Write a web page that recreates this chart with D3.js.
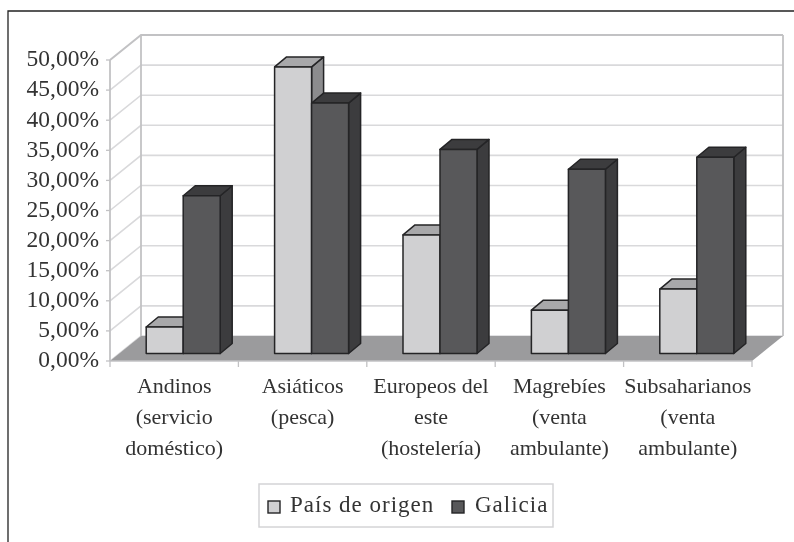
<!DOCTYPE html>
<html><head><meta charset="utf-8">
<script src="https://cdn.jsdelivr.net/npm/d3@7/dist/d3.min.js"></script>
<style>html,body{margin:0;padding:0;background:#fff}svg{display:block;filter:blur(0.45px)}text{font-family:"Liberation Serif",serif;fill:#333}</style>
</head><body><svg id="c" width="794" height="542"></svg>
<script>
const categories = ["Andinos","Asiáticos","Europeos","Magrebíes","Subsaharianos"];
const categoryLines = [
  ["Andinos","(servicio","doméstico)"],
  ["Asiáticos","(pesca)"],
  ["Europeos del","este","(hostelería)"],
  ["Magrebíes","(venta","ambulante)"],
  ["Subsaharianos","(venta","ambulante)"]
];
const seriesNames = ["País de origen","Galicia"];
const paisDeOrigen = [4.4,47.6,19.7,7.2,10.7];
const galicia = [26.2,41.6,33.9,30.6,32.6];
const yTicks = [0,5,10,15,20,25,30,35,40,45,50];
const tickLabels = ["0,00%","5,00%","10,00%","15,00%","20,00%","25,00%","30,00%","35,00%","40,00%","45,00%","50,00%"];

const svg = d3.select("#c");
const x0 = d3.scaleBand().domain(categories).range([110,752]);
const y = d3.scaleLinear().domain([0,50]).range([361,60]);
const x1 = d3.scaleBand().domain(seriesNames).range([x0.bandwidth()/2-37,x0.bandwidth()/2+37]);
const depth = {x:31,y:-25};
const barShift = {x:9,y:-7.5};
const barDepth = {x:12,y:-10};
const wall = "#c2c2c4", grid = "#d9d9db";
const fills = [{front:"#d0d0d2",top:"#a8a8aa",side:"#8c8c8e"},{front:"#58585a",top:"#3c3c3e",side:"#3c3c3e"}];

// frame
svg.append("path").attr("d","M794,11H8V542").attr("fill","none").attr("stroke","#222").attr("stroke-width",1.3);

// back wall gridlines
yTicks.forEach(t=>{
  const yy=y(t);
  svg.append("path").attr("d",`M110,${yy}L${110+depth.x},${yy+depth.y}H${752+depth.x}`)
    .attr("fill","none").attr("stroke",t===50?wall:grid).attr("stroke-width",t===50?2:1.6);
});
svg.append("path").attr("d",`M${110+depth.x},${y(50)+depth.y}V${y(0)+depth.y}`).attr("stroke",wall).attr("stroke-width",1.8);
svg.append("path").attr("d",`M${752+depth.x},${y(50)+depth.y}V${y(0)+depth.y}`).attr("stroke",wall).attr("stroke-width",1.8);
svg.append("path").attr("d",`M110,${y(0)}V${y(50)}`).attr("stroke",wall).attr("stroke-width",1.8);

// floor
svg.append("polygon").attr("fill","#9b9b9d")
  .attr("points",[[110,y(0)],[752,y(0)],[752+depth.x,y(0)+depth.y],[110+depth.x,y(0)+depth.y]].join(" "));

// axes
const xTickVals=[110,...categories.map(c=>x0(c)+x0.bandwidth())];
xTickVals.forEach(v=>svg.append("line").attr("x1",v).attr("x2",v).attr("y1",y(0)).attr("y2",y(0)+6).attr("stroke",wall).attr("stroke-width",1.3));
svg.append("line").attr("x1",110).attr("x2",752).attr("y1",y(0)).attr("y2",y(0)).attr("stroke",wall).attr("stroke-width",1.6);
yTicks.forEach((t,i)=>{
  svg.append("line").attr("x1",106).attr("x2",110).attr("y1",y(t)).attr("y2",y(t)).attr("stroke",wall).attr("stroke-width",1.3);
  svg.append("text").attr("x",99).attr("y",y(t)+1).attr("text-anchor","end").attr("dominant-baseline","middle")
    .attr("font-size",23.5).text(tickLabels[i]);
});

// bars
const stroke="#242426";
categories.forEach((c,i)=>{
  [paisDeOrigen,galicia].forEach((vals,s)=>{
    const xl=x0(c)+x1(seriesNames[s])+barShift.x, w=x1.bandwidth();
    const yb=y(0)+barShift.y, yt=y(vals[i])+barShift.y;
    const dx=barDepth.x, dy=barDepth.y, f=fills[s];
    const g=svg.append("g").attr("stroke",stroke).attr("stroke-width",1.5).attr("stroke-linejoin","round");
    g.append("polygon").attr("fill",f.side).attr("points",[[xl+w,yt],[xl+w+dx,yt+dy],[xl+w+dx,yb+dy],[xl+w,yb]].join(" "));
    g.append("polygon").attr("fill",f.top).attr("points",[[xl,yt],[xl+dx,yt+dy],[xl+w+dx,yt+dy],[xl+w,yt]].join(" "));
    g.append("rect").attr("x",xl).attr("y",yt).attr("width",w).attr("height",yb-yt).attr("fill",f.front);
  });
});

// category labels
categoryLines.forEach((lines,i)=>{
  const cx=x0(categories[i])+x0.bandwidth()/2;
  lines.forEach((l,j)=>svg.append("text").attr("x",cx).attr("y",388+j*31).attr("text-anchor","middle")
    .attr("dominant-baseline","middle").attr("font-size",22).text(l));
});

// legend
svg.append("rect").attr("x",259).attr("y",484).attr("width",294).attr("height",43).attr("fill","#fff").attr("stroke","#d4d4d6").attr("stroke-width",1.5);
[[268,290],[452,475]].forEach((p,i)=>{
  svg.append("rect").attr("x",p[0]).attr("y",501).attr("width",12).attr("height",12).attr("fill",fills[i].front).attr("stroke",stroke).attr("stroke-width",1.4);
  svg.append("text").attr("x",p[1]).attr("y",507).attr("dominant-baseline","middle").attr("font-size",23).attr("letter-spacing",1).text(seriesNames[i]);
});
</script></body></html>
